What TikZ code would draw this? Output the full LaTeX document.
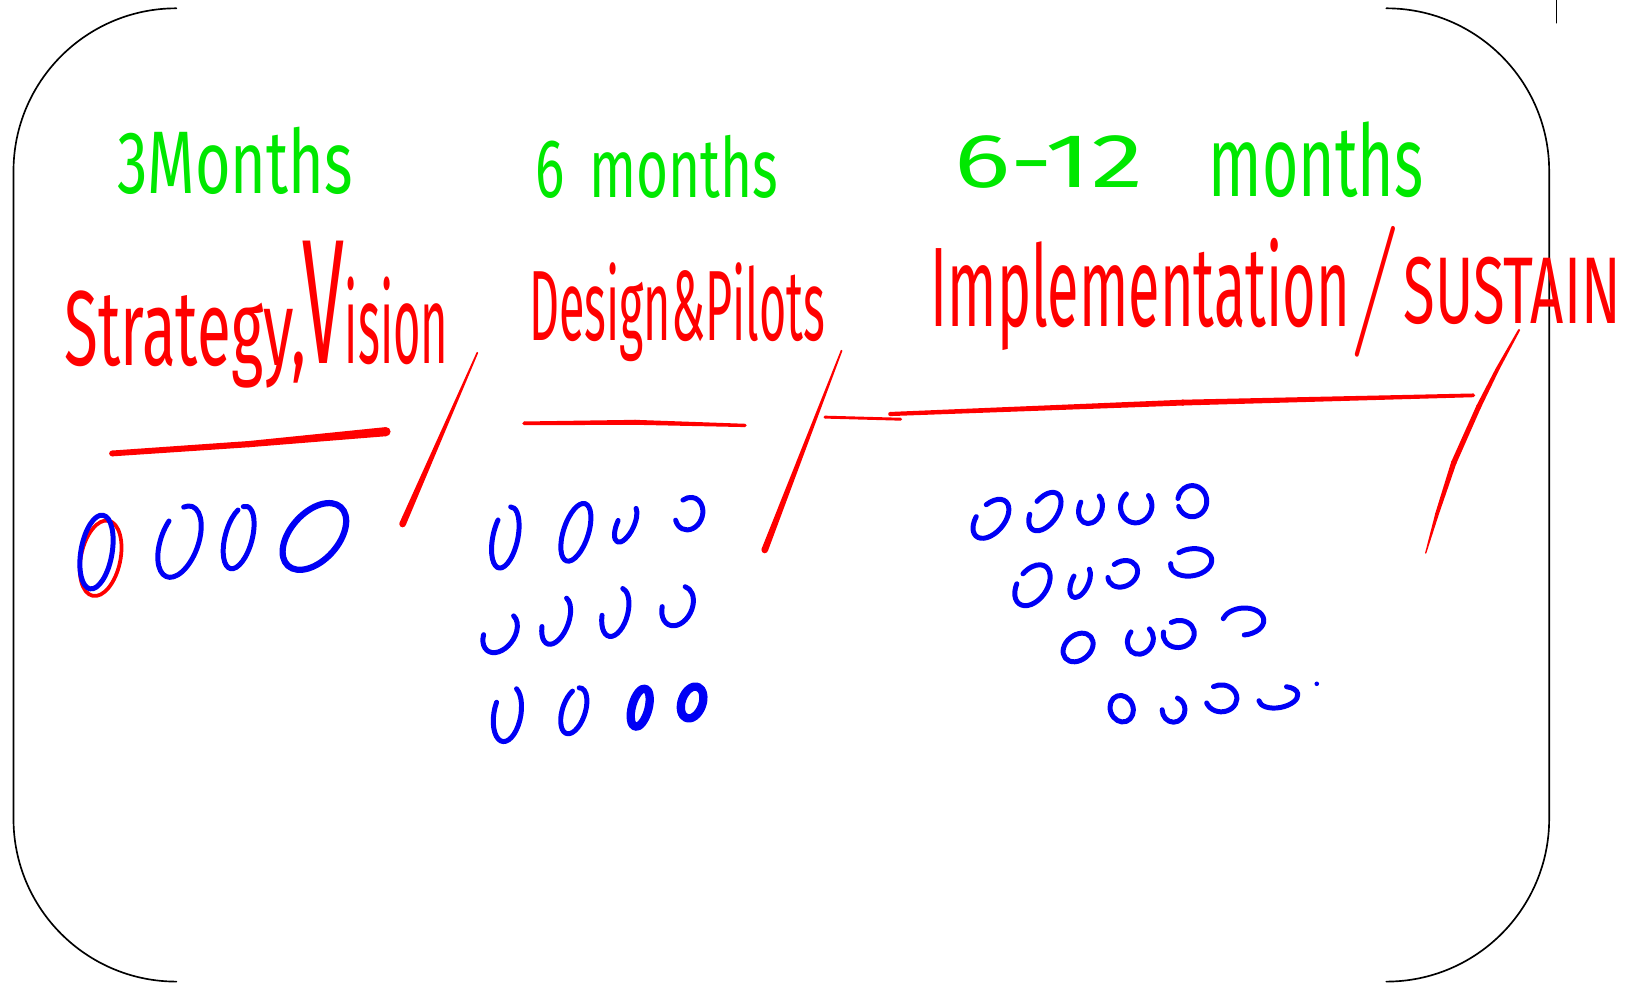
\documentclass[tikz,border=0pt]{standalone}
\usepackage{fontspec}
\setmainfont{Fira Sans}
\usetikzlibrary{calc}
\definecolor{inkred}{RGB}{255,0,0}
\definecolor{inkgreen}{RGB}{0,232,0}
\definecolor{inkblue}{RGB}{0,0,245}
% squeeze a marker label into a box of given width and height (grid units)
\newcommand\inkfit[3]{\resizebox{\dimexpr #1pt/2\relax}{\dimexpr #2pt/2\relax}{#3}}
% tapered marker stroke between two named coordinates (half widths)
\newcommand\inkstroke[4]{%
  \fill[inkred] ($(#1)!#3!90:(#2)$) -- ($(#2)!#4!-90:(#1)$) -- ($(#2)!#4!90:(#1)$) -- ($(#1)!#3!-90:(#2)$) -- cycle;
  \fill[inkred] (#1) circle[radius=#3];
  \fill[inkred] (#2) circle[radius=#4];}
% one hand-drawn ring: centre, radii (pt), tilt, start and end angle
\newcommand\inkloop[8][]{%
  \begin{scope}[shift={(#2,#3)},rotate=#6]
    \draw[loopline,#1] (#7:#4pt and #5pt) arc[start angle=#7,end angle=#8,x radius=#4pt,y radius=#5pt];
  \end{scope}}
\begin{document}
\begin{tikzpicture}[x=0.5pt,y=-0.5pt,line cap=round,line join=round,
  boardedge/.style={draw=black,line width=0.8pt},
  loopline/.style={draw=inkblue,line width=2.4pt},
  greentext/.style={text=inkgreen,inner sep=0pt,outer sep=0pt,anchor=base west},
  redtext/.style={text=inkred,inner sep=0pt,outer sep=0pt,anchor=base west}]
\useasboundingbox (0,0) rectangle (1568,948);
\fill[white] (0,0) rectangle (1568,948);

% board outline: rounded corners and side edges
\draw[boardedge] (170,8) arc[start angle=90,end angle=180,radius=78.5pt] -- (13,789)
  arc[start angle=180,end angle=270,radius=78.5pt];
\draw[boardedge] (1336,8) arc[start angle=90,end angle=0,radius=78.5pt] -- (1493,789)
  arc[start angle=0,end angle=-90,radius=78.5pt];
\coordinate (tickTop) at (1500,0);
\coordinate (tickBot) at (1500,22);
\draw[boardedge] (tickTop) -- (tickBot);

% durations
\node[greentext] (durA) at (113,186) {\inkfit{227}{64}{3Months}};
\node[greentext] (durB) at (516,190) {\inkfit{234}{60}{6\hspace{0.45em}months}};
\node[greentext] (durC) at (920,181) {\inkfit{182}{50}{6-12}};
\node[greentext] (durCm) at (1165,189) {\inkfit{207}{72}{months}};

% phases
\node[redtext] (phA) at (62,352) {\inkfit{233}{72}{Strategy,}};
\node[redtext] (phAv) at (292,350) {\inkfit{140}{118}{\scalebox{1.6}{V}ision}};
\node[redtext] (phB) at (510,328) {\inkfit{285}{75}{Design\&Pilots}};
\node[redtext] (phC) at (897,315) {\inkfit{404}{85}{Implementation}};
\node[redtext,anchor=center] (phCs) at (1326,281)
  {\resizebox*{25pt}{63pt}{\fontfamily{lmr}\selectfont /}};
\node[redtext] (phCt) at (1353,312) {\inkfit{209}{64}{SUSTAIN}};

% underlines
\coordinate (uA1) at (108,437); \coordinate (uA2) at (240,428); \coordinate (uA3) at (372,416);
\inkstroke{uA1}{uA2}{1.4pt}{1.5pt}
\inkstroke{uA2}{uA3}{1.5pt}{2.2pt}
\coordinate (uB1) at (505,408); \coordinate (uB2) at (612,407); \coordinate (uB3) at (718,410);
\inkstroke{uB1}{uB2}{0.9pt}{1.2pt}
\inkstroke{uB2}{uB3}{1.2pt}{0.8pt}
\coordinate (uD1) at (795,402); \coordinate (uD2) at (868,404);
\inkstroke{uD1}{uD2}{0.7pt}{0.7pt}
\coordinate (uC1) at (858,399); \coordinate (uC2) at (1140,388); \coordinate (uC3) at (1420,381);
\inkstroke{uC1}{uC2}{1.0pt}{1.4pt}
\inkstroke{uC2}{uC3}{1.4pt}{0.9pt}

% phase separators
\coordinate (sA1) at (460,340); \coordinate (sA2) at (388,505);
\inkstroke{sA1}{sA2}{0.4pt}{1.6pt}
\coordinate (sB1) at (811,338); \coordinate (sB2) at (737,530);
\inkstroke{sB1}{sB2}{0.4pt}{1.6pt}
\coordinate (sC1) at (1464,318); \coordinate (sC2) at (1443,356); \coordinate (sC3) at (1425,392);
\coordinate (sC4) at (1401,446); \coordinate (sC5) at (1385,495); \coordinate (sC6) at (1374,533);
\inkstroke{sC1}{sC2}{0.5pt}{0.9pt}
\inkstroke{sC2}{sC3}{0.9pt}{1.2pt}
\inkstroke{sC3}{sC4}{1.2pt}{1.3pt}
\inkstroke{sC4}{sC5}{1.3pt}{0.9pt}
\inkstroke{sC5}{sC6}{0.9pt}{0.3pt}

% strategy group
\inkloop[draw=inkred,line width=1.8pt]{97}{538}{9.5}{18.5}{-12}{0}{360}
\inkloop{93}{532}{7.5}{18}{-10}{0}{360}
\inkloop{173}{522}{9}{18}{-20}{155}{475}
\inkloop{230}{518}{6.5}{15.5}{-15}{125}{465}
\inkloop[line width=3pt]{303}{517}{19}{11.5}{48}{0}{360}

% design group
\inkloop{487}{518}{6}{15}{-12}{150}{455}
\inkloop{555}{513}{6}{14.5}{-18}{0}{360}
\inkloop{603}{505}{4}{9.5}{-25}{180}{430}
\inkloop{664}{495}{6.5}{8}{-20}{220}{500}
\inkloop{482}{610}{7}{10.5}{-35}{210}{445}
\inkloop{536}{598}{6}{12}{-20}{205}{440}
\inkloop{593}{590}{6}{12}{-15}{195}{445}
\inkloop{653}{584}{7}{10}{-25}{200}{455}
\inkloop{489}{688}{6.5}{13.5}{-10}{160}{430}
\inkloop{553}{685}{5.5}{11.5}{-18}{130}{460}
\inkloop[line width=4pt]{617}{682}{4}{9.5}{-15}{0}{360}
\inkloop[line width=4pt]{667}{677}{5}{8}{-20}{0}{360}

% implementation group
\inkloop{955}{500}{11}{6.5}{50}{110}{430}
\inkloop{1007}{493}{10.5}{6}{55}{120}{440}
\inkloop{1051}{490}{5.5}{7.5}{-20}{170}{430}
\inkloop{1095}{488}{7.5}{8}{-20}{150}{420}
\inkloop{1149}{483}{7}{7.5}{0}{200}{530}
\inkloop{995}{564}{11}{7}{55}{110}{440}
\inkloop{1041}{561}{4}{8}{-25}{170}{430}
\inkloop{1082}{553}{7.5}{6}{30}{160}{460}
\inkloop{1148}{542}{10}{6.5}{10}{170}{480}
\inkloop{1039}{624}{8}{6}{40}{0}{360}
\inkloop{1099}{617}{6}{7}{-30}{170}{440}
\inkloop{1136}{611}{7.5}{6.5}{10}{160}{470}
\inkloop{1198}{599}{10}{6.5}{5}{270}{520}
\inkloop{1081}{683}{5.5}{6.5}{20}{0}{360}
\inkloop{1131}{684}{5.5}{6}{0}{180}{430}
\inkloop{1177}{673}{7.5}{6.5}{0}{200}{480}
\inkloop{1232}{672}{9.5}{5}{10}{180}{420}
\coordinate (inkdot) at (1269,659);
\fill[inkblue] (inkdot) circle[radius=1.1pt];
\end{tikzpicture}
\end{document}
